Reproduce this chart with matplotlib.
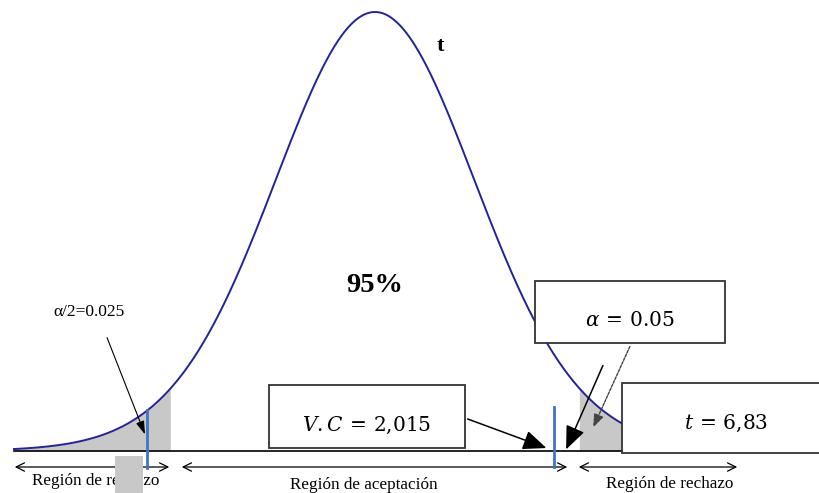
import numpy as np
import matplotlib
matplotlib.use("Agg")
import matplotlib.pyplot as plt
from matplotlib.patches import Rectangle

# ---- data / labels ----
df = 30                      # degrees of freedom of the schematic t curve
alpha_half_label = "α/2=0.025"
percent_label = "95%"
curve_label = "t"
alpha_label = r"$\alpha \,=\, 0.05$"
vc_label = r"$V.C \,=\, 2{,}015$"
tstat_label = r"$t \,=\, 6{,}83$"
region_labels = ["Región de rechazo", "Región de aceptación", "Región de rechazo"]

plt.rcParams['mathtext.fontset'] = 'dejavuserif'

fig = plt.figure(figsize=(8.2, 4.93), dpi=100)
ax = fig.add_axes([0, 0, 1, 1])
ax.set_xlim(0, 820)
ax.set_ylim(493, 0)
ax.axis('off')

# layout (pixel space)
cx, scale, base, height = 375, 102, 451, 439
def to_px(t):
    return cx + scale * t
def dens(t):
    return (1 + t**2 / df) ** (-(df + 1) / 2)

t = np.linspace((14 - cx) / scale, (622 - cx) / scale, 600)
xp = to_px(t)
yp = base - height * dens(t)

navy = "#22229a"
gray = "#c8c8c8"
blue = "#4472c4"

# shaded tails
mL = xp <= 171
ax.fill_between(xp[mL], yp[mL], base, color=gray, lw=0, zorder=1)
mR = xp >= 579
ax.fill_between(xp[mR], yp[mR], base, color=gray, lw=0, zorder=1)

ax.plot(xp, yp, color=navy, lw=1.4, zorder=3)

# baseline
ax.plot([14, 740], [base, base], color="black", lw=1.2, zorder=2)

# blue critical lines
ax.plot([147, 147], [410, 468], color=blue, lw=2, zorder=4)
ax.plot([554, 554], [407, 467], color=blue, lw=2, zorder=4)

# region double arrows
arrow_kw = dict(arrowstyle="<->,head_length=0.6,head_width=0.3", lw=0.9, color="black")
for x0, x1 in [(12, 172), (179, 570), (576, 740)]:
    ax.annotate("", xy=(x1, 467), xytext=(x0, 467), arrowprops=arrow_kw, zorder=2)

serif = "Liberation Serif"
ax.text(96, 481, region_labels[0], ha="center", va="center", fontsize=12.3, family=serif)
ax.text(364, 485, region_labels[1], ha="center", va="center", fontsize=12.3, family=serif)
ax.text(670, 484, region_labels[2], ha="center", va="center", fontsize=12.3, family=serif)

# gray patch covering part of left label
ax.add_patch(Rectangle((115, 456), 28, 40, facecolor=gray, edgecolor="none", zorder=5))

# texts
ax.text(89, 312, alpha_half_label, ha="center", va="center", fontsize=12.5, family=serif)
ax.annotate("", xy=(146, 437), xytext=(106, 335),
            arrowprops=dict(arrowstyle="-|>,head_length=0.8,head_width=0.25", lw=0.8, color="black"))
ax.text(375, 285, percent_label, ha="center", va="center", fontsize=20.5, family=serif, fontweight="bold")
ax.text(440, 46, curve_label, ha="center", va="center", fontsize=16, family=serif, fontweight="bold")

# boxes
box_kw = dict(facecolor="white", edgecolor="#333333", lw=1.3, zorder=6)
ax.add_patch(Rectangle((535, 281), 190, 62, **box_kw))
ax.add_patch(Rectangle((622, 383), 210, 70, **box_kw))
ax.add_patch(Rectangle((269, 385), 196, 63, **box_kw))
ax.text(630, 321, alpha_label, ha="center", va="center", fontsize=14.5, zorder=7)
ax.text(726, 423, tstat_label, ha="center", va="center", fontsize=14.5, zorder=7)
ax.text(367, 425, vc_label, ha="center", va="center", fontsize=14.5, zorder=7)

# pointer arrows
big = dict(arrowstyle="-|>,head_length=1.2,head_width=0.5", lw=1.1, color="black", mutation_scale=12)
ax.annotate("", xy=(549, 449), xytext=(465, 418), arrowprops=big, zorder=6)
ax.annotate("", xy=(565, 452), xytext=(604, 363), arrowprops=big, zorder=6)
ax.annotate("", xy=(592, 430), xytext=(631, 344),
            arrowprops=dict(arrowstyle="-|>,head_length=0.8,head_width=0.3", lw=1.0,
                            color="#444444", linestyle=(0, (2, 1)), mutation_scale=10), zorder=6)

fig.savefig("out.png", dpi=100)
